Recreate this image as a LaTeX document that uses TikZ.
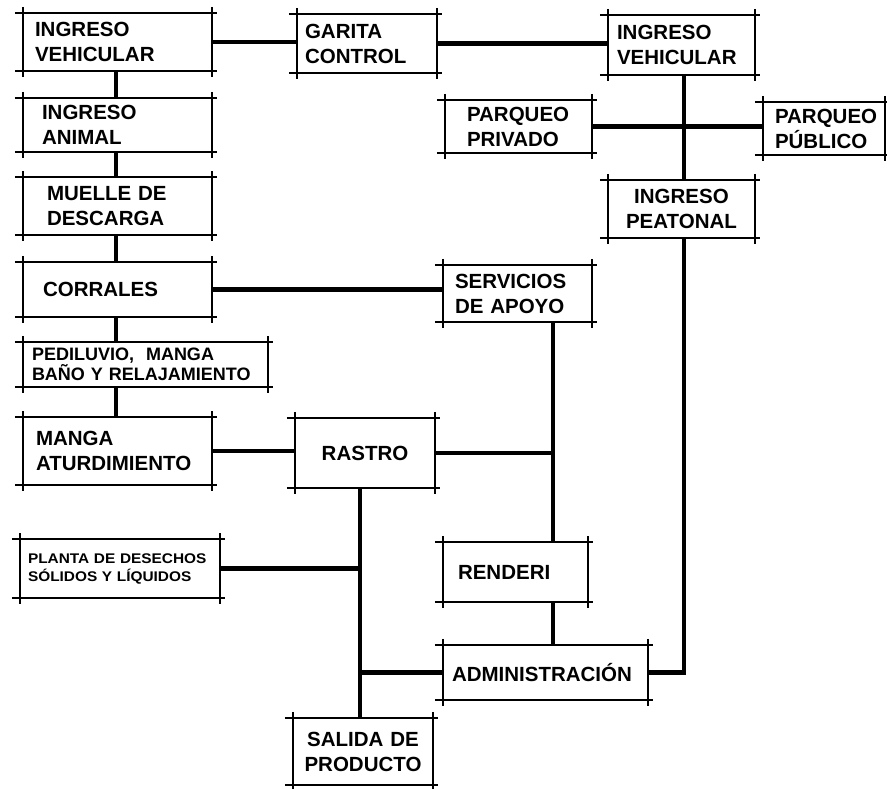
\documentclass[tikz,border=0pt]{standalone}
\usepackage{fontspec}
\setmainfont{Liberation Sans}
\newfontfamily\widefont[FakeStretch=1.1]{Liberation Sans}
\begin{document}
\begin{tikzpicture}[x=1pt,y=-1pt,
  bx/.style={inner ysep=0pt, anchor=center, font=\bfseries\fontsize{20.5}{25}\selectfont},
  frame/.style={line width=1.6pt, black},
  conn/.style={line width=4.5pt, black, line join=miter}]
\fill[white] (0,0) rectangle (887,789);
\useasboundingbox (0,0) rectangle (887,789);
% boxes
\node[bx, minimum width=189pt, minimum height=58pt, text width=165pt, inner xsep=12pt, align=left] (iv1) at (117.5,42) {INGRESO\\VEHICULAR};
\node[bx, minimum width=140pt, minimum height=59pt, text width=124pt, inner xsep=8pt, align=left] (garita) at (367,43.5) {GARITA\\CONTROL};
\node[bx, minimum width=147pt, minimum height=60pt, text width=129pt, inner xsep=9pt, align=left] (iv2) at (681.5,45) {INGRESO\\VEHICULAR};
\node[bx, minimum width=147pt, minimum height=53pt, text width=103pt, inner xsep=22pt, align=left] (ppriv) at (518.5,126.5) {PARQUEO\\PRIVADO};
\node[bx, minimum width=122pt, minimum height=53pt, text width=98pt, inner xsep=12pt, align=left] (ppub) at (824,128.5) {PARQUEO\\PÚBLICO};
\node[bx, minimum width=147pt, minimum height=58pt, text width=147pt, inner xsep=0pt, align=center] (ipeat) at (681.5,209) {INGRESO\\PEATONAL};
\node[bx, minimum width=189pt, minimum height=54pt, text width=151pt, inner xsep=19pt, align=left] (ianimal) at (117.5,125) {INGRESO\\ANIMAL};
\node[bx, minimum width=189pt, minimum height=58pt, text width=141pt, inner xsep=24pt, align=left] (muelle) at (117.5,206) {MUELLE DE\\DESCARGA};
\node[bx, minimum width=189pt, minimum height=55pt, text width=149pt, inner xsep=20pt, align=left] (corrales) at (117.5,289.5) {CORRALES};
\node[bx, minimum width=149pt, minimum height=57pt, text width=125pt, inner xsep=12pt, align=left] (servicios) at (517.5,293.5) {SERVICIOS\\DE APOYO};
\node[bx, minimum width=245pt, minimum height=45pt, text width=227pt, inner xsep=9pt, align=left, font=\bfseries\fontsize{18}{17}\selectfont] (pediluvio) at (145.5,364.5) {\mbox{PEDILUVIO,\ \ MANGA}\\\mbox{BAÑO Y RELAJAMIENTO}};
\node[bx, minimum width=189pt, minimum height=68pt, text width=163pt, inner xsep=13pt, align=left] (manga) at (117.5,451) {MANGA\\ATURDIMIENTO};
\node[bx, minimum width=140pt, minimum height=70pt, text width=140pt, inner xsep=0pt, align=center] (rastro) at (365,453) {RASTRO};
\node[bx, minimum width=200pt, minimum height=59pt, text width=184pt, inner xsep=8pt, align=left, font=\widefont\bfseries\fontsize{14}{18}\selectfont] (planta) at (120,568.5) {\mbox{PLANTA DE DESECHOS}\\\mbox{SÓLIDOS Y LÍQUIDOS}};
\node[bx, minimum width=145pt, minimum height=60pt, text width=115pt, inner xsep=15pt, align=left] (renderi) at (515.5,572) {RENDERI};
\node[bx, minimum width=205pt, minimum height=55pt, text width=187pt, inner xsep=9pt, align=left] (admin) at (545.5,672.5) {ADMINISTRACIÓN};
\node[bx, minimum width=140pt, minimum height=67pt, text width=140pt, inner xsep=0pt, align=center] (salida) at (363,751.5) {SALIDA DE\\PRODUCTO};
% frames with crossing corners
\foreach \n in {iv1,garita,iv2,ppriv,ppub,ipeat,ianimal,muelle,corrales,servicios,pediluvio,manga,rastro,planta,renderi,admin,salida}{
  \draw[frame] ([xshift=-8pt]\n.north west) -- ([xshift=5pt]\n.north east);
  \draw[frame] ([xshift=-8pt]\n.south west) -- ([xshift=5pt]\n.south east);
  \draw[frame] ([yshift=6pt]\n.north west) -- ([yshift=-6pt]\n.south west);
  \draw[frame] ([yshift=6pt]\n.north east) -- ([yshift=-6pt]\n.south east);
}
% spines
\coordinate (sp) at (116,0);
\coordinate (rs) at (684,0);
\coordinate (ms) at (553,0);
\coordinate (ls) at (360,0);
% connectors
\draw[conn] (iv1.east) -- (iv1.east -| garita.west);
\draw[conn] (garita.east) -- (garita.east -| iv2.west);
\draw[conn] (iv1.south -| sp) -- (ianimal.north -| sp);
\draw[conn] (ianimal.south -| sp) -- (muelle.north -| sp);
\draw[conn] (muelle.south -| sp) -- (corrales.north -| sp);
\draw[conn] (corrales.south -| sp) -- (pediluvio.north -| sp);
\draw[conn] (pediluvio.south -| sp) -- (manga.north -| sp);
\draw[conn] (iv2.south -| rs) -- (ipeat.north -| rs);
\draw[conn] (ppriv.east) -- (ppriv.east -| ppub.west);
\draw[conn] (ipeat.south -| rs) |- (admin.east);
\draw[conn] (corrales.east) -- (corrales.east -| servicios.west);
\draw[conn] (servicios.south -| ms) -- (renderi.north -| ms);
\draw[conn] (rastro.east) -- (rastro.east -| ms);
\draw[conn] (manga.east) -- (manga.east -| rastro.west);
\draw[conn] (rastro.south -| ls) -- (salida.north -| ls);
\draw[conn] (planta.east) -- (planta.east -| ls);
\draw[conn] (renderi.south -| ms) -- (admin.north -| ms);
\draw[conn] (admin.west) -- (admin.west -| ls);
\end{tikzpicture}
\end{document}
